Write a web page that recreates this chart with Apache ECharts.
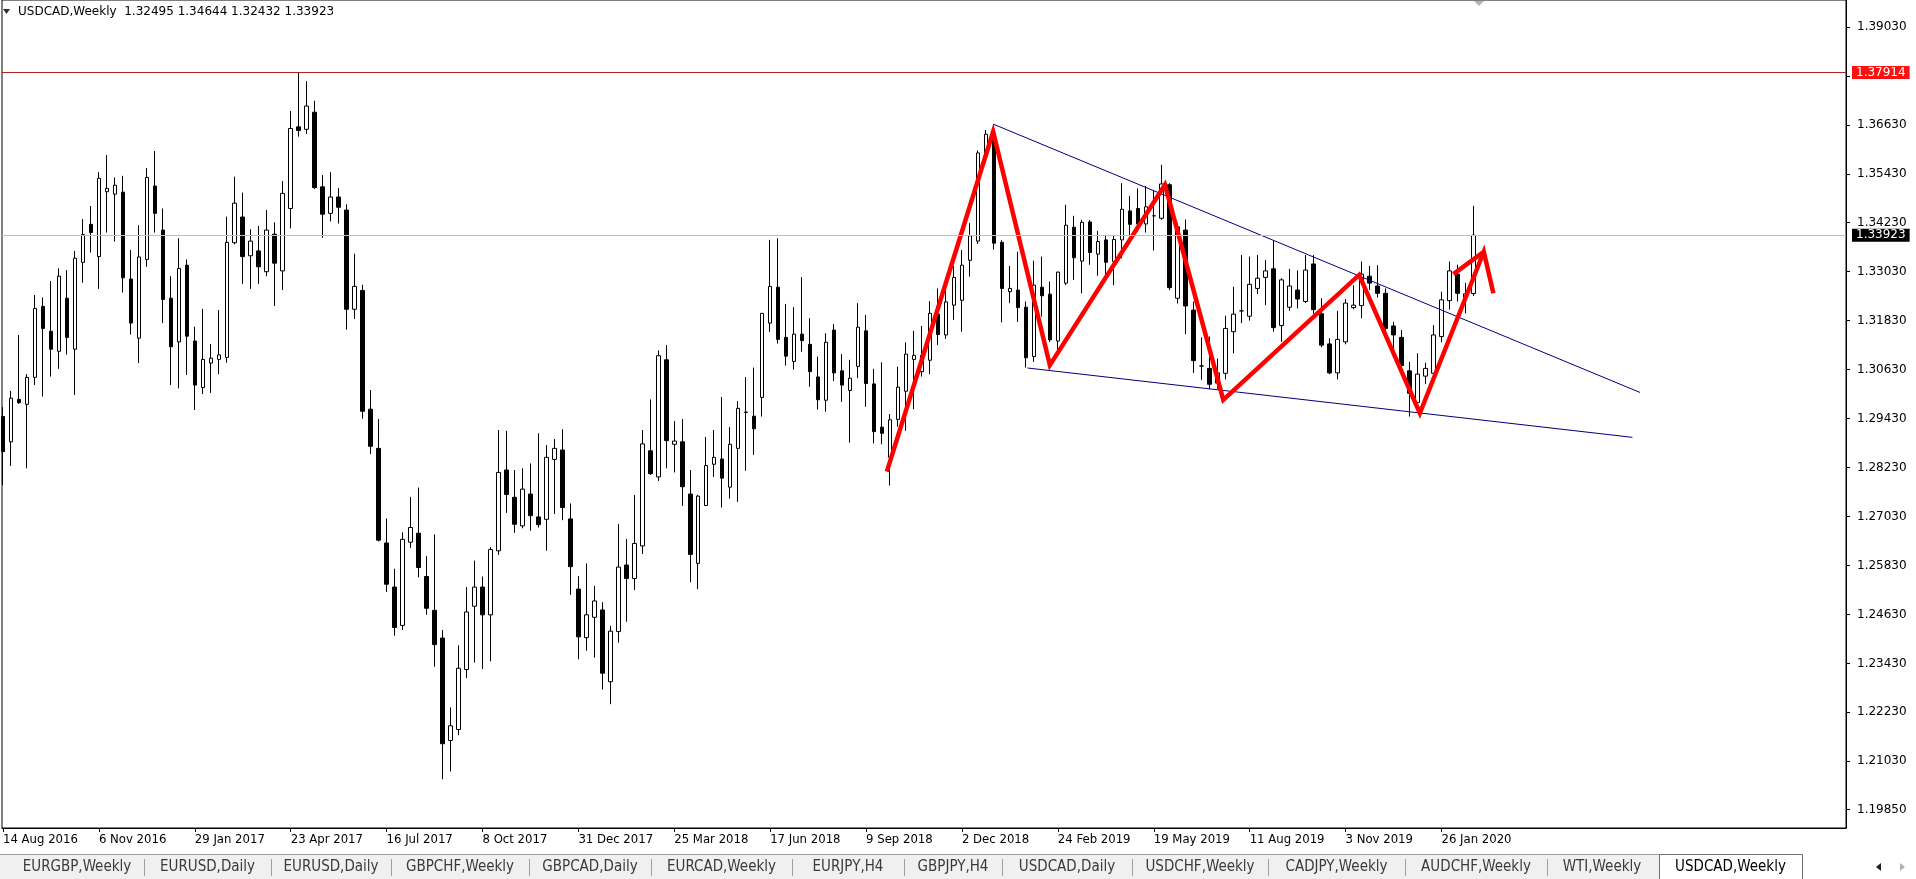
<!DOCTYPE html>
<html><head><meta charset="utf-8">
<script src="https://cdn.jsdelivr.net/npm/echarts@6/dist/echarts.min.js"></script>
<style>html,body{margin:0;padding:0;background:#fff;overflow:hidden}#c{width:1916px;height:879px}</style>
</head><body><div id="c"></div>
<script>
// ---------------- DATA ----------------
const symbolTitle = 'USDCAD,Weekly';
// x-axis date labels (every 12 weekly bars; bar 0 = week of 14 Aug 2016)
const dateLabels = ['14 Aug 2016','6 Nov 2016','29 Jan 2017','23 Apr 2017','16 Jul 2017','8 Oct 2017','31 Dec 2017','25 Mar 2018','17 Jun 2018','9 Sep 2018','2 Dec 2018','24 Feb 2019','19 May 2019','11 Aug 2019','3 Nov 2019','26 Jan 2020'];
const dateLabelBars = [0,12,24,36,48,60,72,84,96,108,120,132,144,156,168,180];
// price axis ticks / labels
const priceTicks = [1.39030,1.37830,1.36630,1.35430,1.34230,1.33030,1.31830,1.30630,1.29430,1.28230,1.27030,1.25830,1.24630,1.23430,1.22230,1.21030,1.19850];
const priceLabels = [1.39030,1.36630,1.35430,1.34230,1.33030,1.31830,1.30630,1.29430,1.28230,1.27030,1.25830,1.24630,1.23430,1.22230,1.21030,1.19850];
// weekly OHLC
const opens = [1.2948,1.2886,1.2990,1.2978,1.3044,1.3218,1.3157,1.3108,1.3238,1.3113,1.3326,1.3419,1.3340,1.3499,1.3493,1.3498,1.3285,1.3140,1.3333,1.3513,
1.3405,1.3238,1.3131,1.3319,1.3133,1.3019,1.3079,1.3088,1.3093,1.3374,1.3437,1.3342,1.3354,1.3303,1.3395,1.3305,1.3458,1.3658,1.3652,1.3694,
1.3511,1.3446,1.3486,1.3454,1.3211,1.3257,1.2966,1.2870,1.2638,1.2530,1.2436,1.2640,1.2662,1.2556,1.2473,1.2405,1.2154,1.2181,1.2328,1.2483,
1.2530,1.2462,1.2619,1.2817,1.2750,1.2680,1.2758,1.2702,1.2696,1.2843,1.2866,1.2697,1.2525,1.2406,1.2456,1.2474,1.2298,1.2421,1.2584,1.2551,
1.2631,1.2864,1.2800,1.3087,1.2880,1.2886,1.2758,1.2588,1.2730,1.2831,1.2844,1.2775,1.2870,1.2958,1.2949,1.2995,1.3177,1.3265,1.3142,1.3083,
1.3150,1.3125,1.3045,1.2988,1.3160,1.3060,1.3012,1.3071,1.3158,1.3028,1.2922,1.2848,1.2941,1.3010,1.3088,1.3058,1.3086,1.3199,1.3148,1.3221,
1.3233,1.3331,1.3378,1.3594,1.3642,1.3375,1.3254,1.3258,1.3216,1.3095,1.3265,1.3248,1.3133,1.3275,1.3412,1.3329,1.3425,1.3346,1.3381,1.3328,
1.3381,1.3452,1.3458,1.3420,1.3440,1.3434,1.3516,1.3238,1.3405,1.3209,1.3072,1.3066,1.3030,1.3054,1.3156,1.3207,1.3194,1.3262,1.3289,1.3310,
1.3171,1.3216,1.3258,1.3230,1.3322,1.3200,1.3126,1.3055,1.3131,1.3215,1.3220,1.3292,1.3268,1.3250,1.3170,1.3142,1.3060,1.2982,1.3047,1.3054,
1.3144,1.3232,1.3297,1.3240,1.32495];
const highs = [1.2971,1.3011,1.3148,1.3052,1.3246,1.3240,1.3280,1.3311,1.3307,1.3354,1.3432,1.3464,1.3547,1.3589,1.3534,1.3538,1.3356,1.3417,1.3557,1.3599,
1.3458,1.3292,1.3385,1.3333,1.3168,1.3212,1.3126,1.3209,1.3438,1.3536,1.3497,1.3407,1.3415,1.3454,1.3424,1.3525,1.3697,1.3791,1.3770,1.3722,
1.3540,1.3547,1.3508,1.3468,1.3347,1.3271,1.3013,1.2942,1.2698,1.2575,1.2664,1.2751,1.2774,1.2606,1.2659,1.2425,1.2235,1.2387,1.2530,1.2595,
1.2556,1.2628,1.2915,1.2913,1.2817,1.2821,1.2833,1.2907,1.2878,1.2893,1.2917,1.2735,1.2557,1.2588,1.2533,1.2493,1.2435,1.2685,1.2648,1.2756,
1.2915,1.2990,1.3110,1.3123,1.2937,1.2942,1.2817,1.2756,1.2898,1.2915,1.2996,1.2922,1.2986,1.3045,1.3068,1.3201,1.3381,1.3385,1.3224,1.3216,
1.3290,1.3189,1.3095,1.3152,1.3175,1.3101,1.3087,1.3226,1.3197,1.3065,1.3081,1.2954,1.3070,1.3130,1.3158,1.3170,1.3231,1.3262,1.3289,1.3317,
1.3356,1.3422,1.3600,1.3650,1.3665,1.3380,1.3317,1.3352,1.3230,1.3330,1.3340,1.3279,1.3303,1.3467,1.3440,1.3430,1.3430,1.3403,1.3393,1.3393,
1.3520,1.3489,1.3507,1.3513,1.3503,1.3565,1.3520,1.3422,1.3431,1.3230,1.3142,1.3144,1.3090,1.3195,1.3266,1.3344,1.3340,1.3344,1.3332,1.3379,
1.3287,1.3310,1.3306,1.3344,1.3344,1.3238,1.3140,1.3207,1.3236,1.3270,1.3328,1.3317,1.3319,1.3262,1.3180,1.3160,1.3082,1.3103,1.3080,1.3172,
1.3254,1.3328,1.3320,1.3276,1.34644];
const lows = [1.2780,1.2827,1.2979,1.2821,1.3025,1.2997,1.3046,1.3065,1.3100,1.3001,1.3276,1.3350,1.3261,1.3399,1.3377,1.3252,1.3149,1.3079,1.3315,1.3399,
1.3177,1.3025,1.3017,1.3050,1.2964,1.3003,1.3006,1.3052,1.3080,1.3370,1.3273,1.3261,1.3273,1.3292,1.3219,1.3258,1.3409,1.3634,1.3641,1.3506,
1.3386,1.3426,1.3421,1.3161,1.3187,1.2943,1.2856,1.2642,1.2518,1.2411,1.2425,1.2626,1.2554,1.2462,1.2335,1.2059,1.2078,1.2167,1.2307,1.2345,
1.2329,1.2348,1.2609,1.2712,1.2663,1.2674,1.2668,1.2676,1.2619,1.2709,1.2694,1.2511,1.2353,1.2374,1.2357,1.2279,1.2243,1.2394,1.2445,1.2523,
1.2611,1.2805,1.2790,1.2821,1.2811,1.2729,1.2542,1.2525,1.2729,1.2800,1.2725,1.2747,1.2739,1.2815,1.2854,1.2948,1.3155,1.3127,1.3073,1.3063,
1.3107,1.3021,1.2965,1.2960,1.3035,1.2984,1.2884,1.3042,1.2972,1.2882,1.2880,1.2779,1.2923,1.2913,1.2966,1.3046,1.3052,1.3123,1.3138,1.3185,
1.3156,1.3291,1.3371,1.3570,1.3357,1.3179,1.3226,1.3180,1.3068,1.3082,1.3193,1.3131,1.3110,1.3270,1.3283,1.3250,1.3320,1.3293,1.3280,1.3270,
1.3336,1.3393,1.3401,1.3399,1.3355,1.3430,1.3258,1.3225,1.3150,1.3055,1.3038,1.3015,1.3016,1.3039,1.3103,1.3177,1.3183,1.3248,1.3221,1.3156,
1.3131,1.3207,1.3213,1.3226,1.3200,1.3118,1.3052,1.3039,1.3125,1.3211,1.3189,1.3258,1.3240,1.3155,1.3110,1.3060,1.2948,1.2960,1.3028,1.3040,
1.3130,1.3210,1.3230,1.3201,1.32432];
const closes = [1.2862,1.2993,1.2982,1.3044,1.3213,1.3164,1.3113,1.3292,1.3142,1.3336,1.3394,1.3399,1.3532,1.3507,1.3515,1.3288,1.3177,1.3339,1.3534,1.3446,
1.3235,1.3119,1.3311,1.3145,1.3025,1.3088,1.3091,1.3099,1.3375,1.3471,1.3340,1.3378,1.3315,1.3405,1.3324,1.3495,1.3654,1.3649,1.3709,1.3509,
1.3444,1.3486,1.3461,1.3211,1.3267,1.2961,1.2875,1.2645,1.2537,1.2431,1.2647,1.2676,1.2578,1.2478,1.2389,1.2146,1.2190,1.2331,1.2469,1.2530,
1.2462,1.2622,1.2811,1.2757,1.2684,1.2770,1.2705,1.2683,1.2848,1.2870,1.2725,1.2580,1.2408,1.2462,1.2496,1.2319,1.2422,1.2579,1.2551,1.2637,
1.2881,1.2808,1.3097,1.2889,1.2888,1.2776,1.2610,1.2753,1.2828,1.2848,1.2797,1.2880,1.2968,1.2959,1.2918,1.3201,1.3267,1.3137,1.3096,1.3150,
1.3134,1.3058,1.2989,1.3130,1.3055,1.3025,1.3042,1.3167,1.3029,1.2911,1.2907,1.2940,1.3020,1.3101,1.3098,1.3098,1.3201,1.3149,1.3229,1.3289,
1.3319,1.3391,1.3594,1.3640,1.3373,1.3262,1.3262,1.3215,1.3092,1.3270,1.3244,1.3136,1.3302,1.3417,1.3337,1.3424,1.3350,1.3377,1.3326,1.3382,
1.3456,1.3419,1.3420,1.3462,1.3440,1.3518,1.3264,1.3413,1.3219,1.3085,1.3072,1.3027,1.3055,1.3164,1.3199,1.3207,1.3272,1.3287,1.3305,1.3166,
1.3283,1.3268,1.3236,1.3307,1.3210,1.3123,1.3055,1.3137,1.3226,1.3221,1.3297,1.3275,1.3250,1.3164,1.3148,1.3073,1.3005,1.3052,1.3066,1.3148,
1.3234,1.3305,1.3250,1.3249,1.33923];
// horizontal levels
const resistanceLevel = 1.37914;
const bidLevel = 1.33923;
// drawn objects: [bar position, price]
const upperTrend = [[124.0,1.3664],[204.85,1.3007]];
const lowerTrend = [[128.2,1.3067],[203.9,1.2897]];
const zigzag = [[110.6,1.2813],[123.9,1.3646],[131.0,1.3074],[145.4,1.3516],[152.7,1.2989],[169.7,1.3295],[177.3,1.2956],[185.3,1.3352],[186.5,1.3250]];
const arrowStroke = [[181.5,1.3297],[185.3,1.3352]];
// tabs
const tabNames = ['EURGBP,Weekly','EURUSD,Daily','EURUSD,Daily','GBPCHF,Weekly','GBPCAD,Daily','EURCAD,Weekly','EURJPY,H4','GBPJPY,H4','USDCAD,Daily','USDCHF,Weekly','CADJPY,Weekly','AUDCHF,Weekly','WTI,Weekly','USDCAD,Weekly'];

// ---------------- LAYOUT ----------------
const W = 1916, H = 879;
const GRID = {left:0, right:70, top:0, bottom:51};
const BAR_PX = 8;
const X_MIN = -0.125;
const X_MAX = X_MIN + (W - GRID.left - GRID.right) / BAR_PX;
const PX_PER_PRICE = 4080;
const Y_MAX = 1.39030 + 26.9 / PX_PER_PRICE;
const Y_MIN = Y_MAX - (H - GRID.top - GRID.bottom) / PX_PER_PRICE;
const tabEdges = [10,144,271,391,529,651,792,904,1002,1132,1268,1405,1547,1657,1802];
const TAB_TOP = 854;
const axisFont = 'DejaVu Sans';
const condFont = '"DejaVu Sans Condensed","Liberation Sans Narrow","DejaVu Sans"';

const candleData = opens.map((o, i) => [i, o, closes[i], lows[i], highs[i]]);
const last = opens.length - 1;
const headerText = symbolTitle + '  ' + [opens[last], highs[last], lows[last], closes[last]].map(v => v.toFixed(5)).join(' ');

const chart = echarts.init(document.getElementById('c'), null, {renderer:'canvas', width:W, height:H});

const graphic = [];
// tab strip
graphic.push({type:'rect', shape:{x:0, y:TAB_TOP, width:W, height:H-TAB_TOP}, style:{fill:'#f0f0f0'}, z:10});
graphic.push({type:'line', shape:{x1:0, y1:TAB_TOP+0.5, x2:W, y2:TAB_TOP+0.5}, style:{stroke:'#a0a0a0', lineWidth:1}, z:11});
graphic.push({type:'rect', shape:{x:tabEdges[tabEdges.length-1], y:TAB_TOP, width:W-tabEdges[tabEdges.length-1], height:H-TAB_TOP}, style:{fill:'#ffffff'}, z:11});
tabNames.forEach((name, i) => {
  const x0 = tabEdges[i], x1 = tabEdges[i+1];
  const active = i === tabNames.length - 1;
  if (active) {
    graphic.push({type:'rect', shape:{x:x0+2.5, y:TAB_TOP+0.5, width:x1-x0-2, height:H-TAB_TOP}, style:{fill:'#ffffff', stroke:'#707070', lineWidth:1}, z:12});
  } else if (i < tabNames.length - 2) {
    graphic.push({type:'line', shape:{x1:x1+0.5, y1:TAB_TOP+5, x2:x1+0.5, y2:H-3}, style:{stroke:'#a0a0a0', lineWidth:1}, z:12});
  }
  graphic.push({type:'text', x:(x0+x1)/2 + (active?1:0), y:TAB_TOP+13, style:{text:name, font:'15px '+condFont, fill: active ? '#000' : '#3a3a3a', textAlign:'center', textVerticalAlign:'middle'}, z:13});
});
// scroll arrows
graphic.push({type:'polygon', shape:{points:[[1876,867],[1881,863],[1881,871]]}, style:{fill:'#202020'}, z:13});
graphic.push({type:'polygon', shape:{points:[[1905,867],[1900,863],[1900,871]]}, style:{fill:'#b0b0b0'}, z:13});
// header
graphic.push({type:'text', x:18, y:12, style:{text:headerText, font:'12px '+axisFont, fill:'#000', textVerticalAlign:'middle'}, z:13});
graphic.push({type:'polygon', shape:{points:[[3,9],[10,9],[6.5,14]]}, style:{fill:'#303030'}, z:13});
// chart shift marker
graphic.push({type:'polygon', shape:{points:[[1474,1],[1484,1],[1479,6]]}, style:{fill:'#b4b4b4'}, z:13});

const option = {
  animation:false,
  backgroundColor:'#ffffff',
  grid:{left:GRID.left, right:GRID.right, top:GRID.top, bottom:GRID.bottom, show:true, borderColor:'#000', borderWidth:1, backgroundColor:'#fff'},
  xAxis:{
    type:'value', min:X_MIN, max:X_MAX, position:'bottom',
    axisLine:{show:true, onZero:false, lineStyle:{color:'#000', width:1}},
    axisTick:{show:true, customValues:dateLabelBars, length:4, lineStyle:{color:'#000'}},
    axisLabel:{show:true, customValues:dateLabelBars, formatter:(v) => { const k = dateLabelBars.indexOf(Math.round(v)); return k >= 0 ? dateLabels[k] : ''; },
      align:'left', margin:5, color:'#000', fontFamily:condFont.replace(/"/g,''), fontSize:13},
    splitLine:{show:false}
  },
  yAxis:{
    type:'value', position:'right', min:Y_MIN, max:Y_MAX,
    axisLine:{show:true, onZero:false, lineStyle:{color:'#000', width:1}},
    axisTick:{show:true, customValues:priceTicks, length:4, lineStyle:{color:'#000'}},
    axisLabel:{show:true, customValues:priceLabels, formatter:(v) => v.toFixed(5), margin:11, color:'#000', fontFamily:axisFont, fontSize:12},
    splitLine:{show:false}
  },
  series:[
    {
      type:'candlestick', data:candleData, encode:{x:0, y:[1,2,3,4]}, barWidth:4, silent:true, z:2,
      itemStyle:{color:'#ffffff', color0:'#000000', borderColor:'#000000', borderColor0:'#000000', borderColorDoji:'#000000', borderWidth:1},
      markLine:{
        silent:true, symbol:['none','none'], animation:false, precision:5,
        data:[
          {yAxis:resistanceLevel, lineStyle:{color:'#b22222', width:1, type:'solid'},
            label:{show:true, position:'end', distance:6, formatter:resistanceLevel.toFixed(5), backgroundColor:'#ff1010', color:'#ffffff', padding:[1,4,0,4], fontFamily:axisFont, fontSize:12}},
          {yAxis:bidLevel, lineStyle:{color:'#c0c0c0', width:1, type:'solid'},
            label:{show:true, position:'end', distance:6, formatter:bidLevel.toFixed(5), backgroundColor:'#000000', color:'#ffffff', padding:[1,4,0,4], fontFamily:axisFont, fontSize:12}}
        ]
      }
    },
    {type:'line', data:upperTrend, symbol:'none', silent:true, z:3, lineStyle:{color:'#000080', width:1}},
    {type:'line', data:lowerTrend, symbol:'none', silent:true, z:3, lineStyle:{color:'#000080', width:1}},
    {type:'line', data:zigzag, symbol:'none', silent:true, z:4, lineStyle:{color:'#ff0000', width:4.5, join:'miter'}},
    {type:'line', data:arrowStroke, symbol:'none', silent:true, z:4, lineStyle:{color:'#ff0000', width:4.5}}
  ],
  graphic:graphic
};
chart.setOption(option);
</script>
</body></html>
